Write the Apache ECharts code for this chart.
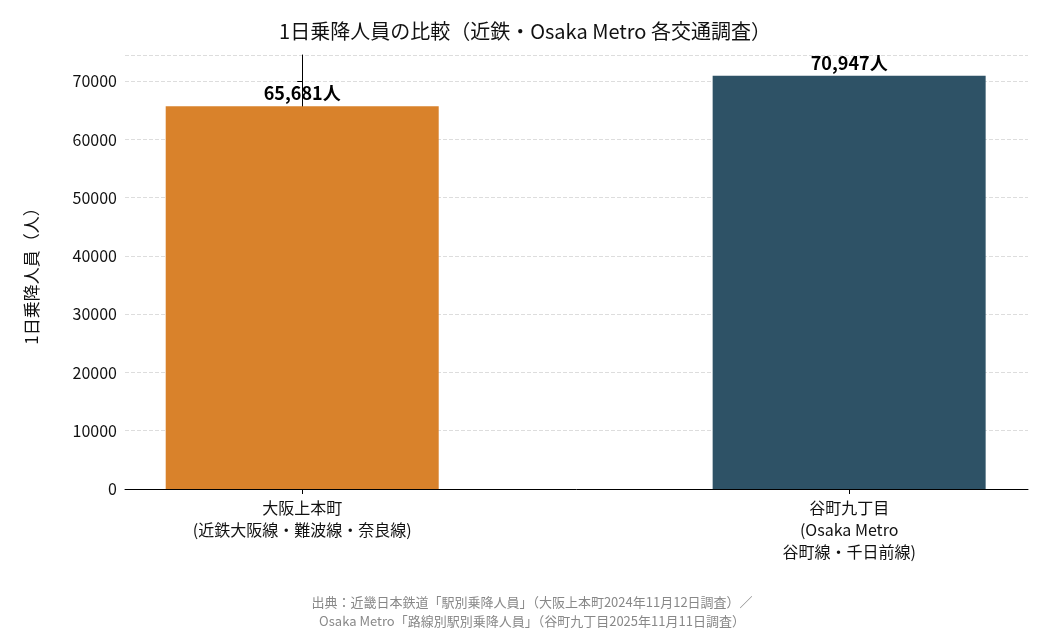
<!DOCTYPE html>
<html><head><meta charset="utf-8">
<script src="https://cdn.jsdelivr.net/npm/echarts@6/dist/echarts.min.js"></script>
<style>html,body{margin:0;padding:0;background:#fff}#c{width:1050px;height:630px}</style>
</head><body><div id="c"></div>
<script>
const categories = ['大阪上本町\n(近鉄大阪線・難波線・奈良線)', '谷町九丁目\n(Osaka Metro\n谷町線・千日前線)'];
const values = [65681, 70947];
const colors = ['#D9822B', '#2E5266'];
const F = '"Noto Sans CJK JP", "Noto Sans", sans-serif';
const chart = echarts.init(document.getElementById('c'));
chart.setOption({
  animation: false,
  textStyle: {fontFamily: F},
  title: [{text: '1日乗降人員の比較（近鉄・Osaka Metro 各交通調査）', left: 'center', top: 16,
    textStyle: {fontFamily: F, fontSize: 20, fontWeight: 'normal', color: '#111'}},
    {text: '出典：近畿日本鉄道「駅別乗降人員」（大阪上本町2024年11月12日調査）／\nOsaka Metro「路線別駅別乗降人員」（谷町九丁目2025年11月11日調査）',
     left: 527, textAlign: 'center', top: 588,
     textStyle: {fontFamily: F, fontSize: 13, fontWeight: 'normal', color: '#888', lineHeight: 19}}],
  grid: {left: 125, right: 22, top: 55, bottom: 141},
  xAxis: {type: 'value', min: -0.324, max: 1.327,
    axisLine: {show: true, lineStyle: {color: '#000'}},
    axisTick: {show: true, customValues: [0, 1], lineStyle: {color: '#000'}},
    splitLine: {show: false},
    axisLabel: {customValues: [0, 1], formatter: v => categories[Math.round(v)] || '',
      fontSize: 16, color: '#111', lineHeight: 22, fontFamily: F}},
  yAxis: {type: 'value', min: 0, max: 74494, interval: 10000,
    name: '1日乗降人員（人）', nameLocation: 'middle', nameGap: 85, nameRotate: 90,
    nameTextStyle: {fontSize: 17, color: '#111', fontFamily: F},
    axisLine: {show: true, lineStyle: {color: '#000'}}, axisTick: {show: true, lineStyle: {color: '#000'}},
    axisLabel: {fontSize: 16, color: '#111', fontFamily: F, showMaxLabel: false, formatter: v => String(v)},
    splitLine: {lineStyle: {type: 'dashed', color: '#ddd'}}},
  series: [{type: 'bar', barWidth: 273,
    data: values.map((v, i) => ({value: [i, v], itemStyle: {color: colors[i]}})),
    label: {show: true, position: 'top', distance: 4, fontSize: 18, fontWeight: 'bold', color: '#000', fontFamily: F,
      formatter: p => p.value[1].toLocaleString('en-US') + '人'}}]
});
</script></body></html>
